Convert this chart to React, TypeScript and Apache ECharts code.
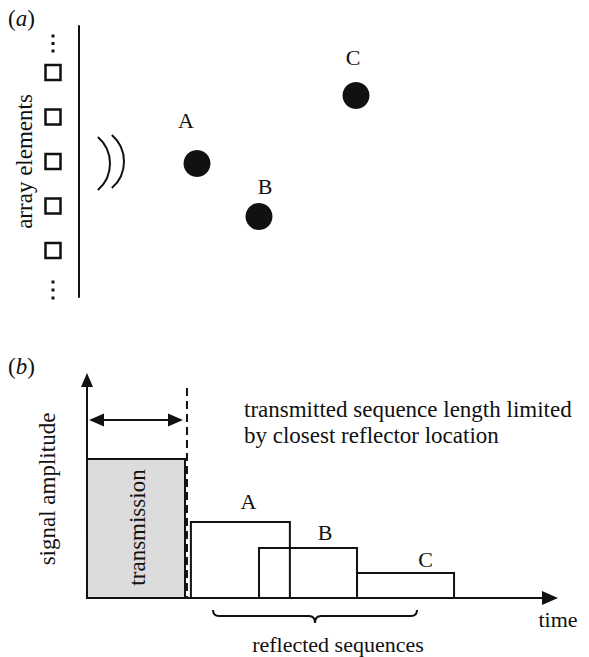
import { useEffect, useRef } from "react";
import * as echarts from "echarts";

// ---------- Panel (a): array geometry (arbitrary mm units) ----------
const elementLateral = [8.9, 4.45, 0, -4.45, -8.9];
const elementDepth = -2.6;
const ellipsisTop = [12.55, 11.8, 11.05];
const ellipsisBottom = [-12.05, -12.85, -13.65];
const reflectorNames = ["A", "B", "C"];
const reflectorDepth = [11.8, 18.0, 27.7];
const reflectorLateral = [-0.2, -5.5, 6.6];

// ---------- Panel (b): signal sequences (time, amplitude) ----------
const sequenceNames = ["transmission", "A", "B", "C"];
const sequenceStart = [0, 1.06, 1.755, 2.755];
const sequenceEnd = [1.0, 2.07, 2.755, 3.745];
const sequenceAmplitude = [1.0, 0.547, 0.36, 0.18];
const lengthLimitTime = 1.02;
const limitLineTop = 1.51;
const limitArrowLevel = 1.28;

// ---------- styling / layout ----------
const FONT = "'Liberation Serif', 'Times New Roman', Times, serif";
const INK = "#111111";
const reflectorLabelOffset = [[-11, -43], [6, -30], [-3, -38]];
const sequenceLabelShift = [[0, 0], [8, -20], [17, -15], [20, -13]];

echarts.graphic.registerShape(
  "brace",
  echarts.graphic.extendPath(
    "M0 0 Q0 6 6 6 L96 6 Q102 6 102 13 Q102 6 108 6 L198 6 Q204 6 204 0",
    {}
  )
);

export default function App() {
  const ref = useRef<HTMLDivElement>(null);

  useEffect(() => {
    if (!ref.current) return;
    const chart = echarts.init(ref.current, null, { renderer: "svg" });

    const hiddenAxisBits = {
      axisTick: { show: false },
      axisLabel: { show: false },
      splitLine: { show: false },
    };

    const panelLabel = (letter: string, y: number) => ({
      type: "text",
      x: 8,
      y,
      style: {
        text: `{n|(}{i|${letter}}{n|)}`,
        verticalAlign: "middle",
        rich: {
          n: { fontFamily: FONT, fontSize: 23, fill: INK, color: INK },
          i: { fontFamily: FONT, fontSize: 23, fontStyle: "italic", fill: INK, color: INK },
        },
      },
    });

    const option: any = {
      animation: false,
      backgroundColor: "#ffffff",
      grid: [
        { left: 39, width: 400, top: 26, height: 271, containLabel: false, outerBoundsMode: "none" },
        { left: 87, right: 39, top: 380, bottom: 59, containLabel: false, outerBoundsMode: "none" },
      ],
      xAxis: [
        {
          gridIndex: 0,
          type: "value",
          min: -4,
          max: 36,
          ...hiddenAxisBits,
          axisLine: { show: false },
        },
        {
          gridIndex: 1,
          type: "value",
          min: 0,
          max: 4.724,
          ...hiddenAxisBits,
          axisLine: {
            show: true,
            onZero: true,
            symbol: ["none", "triangle"],
            symbolSize: [14, 16],
            lineStyle: { color: INK, width: 2 },
          },
        },
      ],
      yAxis: [
        {
          gridIndex: 0,
          type: "value",
          min: -13.55,
          max: 13.55,
          ...hiddenAxisBits,
          axisLine: {
            show: true,
            onZero: true,
            lineStyle: { color: INK, width: 2 },
          },
          name: "array elements",
          nameLocation: "middle",
          nameRotate: 90,
          nameGap: 3,
          nameTextStyle: { fontFamily: FONT, fontSize: 23, color: INK },
        },
        {
          gridIndex: 1,
          type: "value",
          min: 0,
          max: 1.568,
          ...hiddenAxisBits,
          axisLine: {
            show: true,
            onZero: true,
            symbol: ["none", "triangle"],
            symbolSize: [12, 14],
            lineStyle: { color: INK, width: 2 },
          },
          name: "signal amplitude",
          nameLocation: "middle",
          nameRotate: 90,
          nameGap: 28,
          nameTextStyle: { fontFamily: FONT, fontSize: 23, color: INK },
        },
      ],
      series: [
        {
          name: "array elements",
          type: "scatter",
          xAxisIndex: 0,
          yAxisIndex: 0,
          clip: false,
          symbol: "rect",
          symbolSize: 15,
          itemStyle: { color: "#ffffff", borderColor: INK, borderWidth: 2.5, opacity: 1 },
          data: elementLateral.map((v) => [elementDepth, v]),
          z: 3,
        },
        {
          name: "more elements",
          type: "scatter",
          xAxisIndex: 0,
          yAxisIndex: 0,
          clip: false,
          symbol: "rect",
          symbolSize: 3,
          itemStyle: { color: INK, opacity: 1 },
          data: [...ellipsisTop, ...ellipsisBottom].map((v) => [elementDepth, v]),
        },
        {
          name: "reflectors",
          type: "scatter",
          xAxisIndex: 0,
          yAxisIndex: 0,
          clip: false,
          symbol: "circle",
          symbolSize: 27,
          itemStyle: { color: "#111111", opacity: 1 },
          label: {
            show: true,
            position: "inside",
            formatter: (p: any) => p.name,
            fontFamily: FONT,
            fontSize: 22,
            color: INK,
          },
          data: reflectorNames.map((n, i) => ({
            name: n,
            value: [reflectorDepth[i], reflectorLateral[i]],
            label: { offset: reflectorLabelOffset[i] },
          })),
        },
        {
          name: "sequences",
          type: "custom",
          xAxisIndex: 1,
          yAxisIndex: 1,
          clip: false,
          data: sequenceNames.map((n, i) => ({
            name: n,
            value: [sequenceStart[i], sequenceEnd[i], sequenceAmplitude[i]],
          })),
          encode: { x: [0, 1], y: 2 },
          renderItem: (params: any, api: any) => {
            const i = params.dataIndex;
            const s = api.value(0);
            const e = api.value(1);
            const a = api.value(2);
            const p0 = api.coord([s, 0]);
            const p1 = api.coord([e, a]);
            const x = p0[0];
            const y = p1[1];
            const w = p1[0] - p0[0];
            const h = p0[1] - p1[1];
            const isTx = i === 0;
            const children: any[] = [
              {
                type: "rect",
                shape: { x, y, width: w, height: h },
                style: {
                  fill: isTx ? "#dcdcdc" : "none",
                  stroke: INK,
                  lineWidth: 2,
                },
              },
            ];
            if (isTx) {
              children.push({
                type: "text",
                x: x + w / 2 + 1,
                y: y + h / 2 - 1,
                rotation: Math.PI / 2,
                style: {
                  text: sequenceNames[i],
                  fontFamily: FONT,
                  fontSize: 23,
                  fill: INK,
                  align: "center",
                  verticalAlign: "middle",
                },
              });
            } else {
              const sh = sequenceLabelShift[i];
              children.push({
                type: "text",
                x: x + w / 2 + sh[0],
                y: y + sh[1],
                style: {
                  text: sequenceNames[i],
                  fontFamily: FONT,
                  fontSize: 22,
                  fill: INK,
                  align: "center",
                  verticalAlign: "middle",
                },
              });
            }
            return { type: "group", children };
          },
          z: 2,
        },
        {
          name: "length limit",
          type: "custom",
          xAxisIndex: 1,
          yAxisIndex: 1,
          clip: false,
          data: [[lengthLimitTime]],
          encode: { x: 0 },
          renderItem: (_params: any, api: any) => {
            const t = api.value(0);
            const base = api.coord([t, 0]);
            const top = api.coord([t, limitLineTop]);
            const aL = api.coord([0, limitArrowLevel]);
            const aR = api.coord([t, limitArrowLevel]);
            const xL = aL[0] + 2;
            const xR = aR[0] - 4;
            const y = aL[1];
            const head = 15;
            const half = 6.5;
            return {
              type: "group",
              children: [
                {
                  type: "line",
                  shape: { x1: top[0], y1: top[1], x2: base[0], y2: base[1] },
                  style: { stroke: INK, lineWidth: 2, lineDash: [8, 5] },
                },
                {
                  type: "line",
                  shape: { x1: xL + head - 1, y1: y, x2: xR - head + 1, y2: y },
                  style: { stroke: INK, lineWidth: 2 },
                },
                {
                  type: "polygon",
                  shape: { points: [[xL, y], [xL + head, y - half], [xL + head, y + half]] },
                  style: { fill: INK },
                },
                {
                  type: "polygon",
                  shape: { points: [[xR, y], [xR - head, y - half], [xR - head, y + half]] },
                  style: { fill: INK },
                },
              ],
            };
          },
          z: 3,
        },
      ],
      graphic: [
        panelLabel("a", 18),
        panelLabel("b", 366),
        {
          type: "arc",
          shape: { cx: 75, cy: 163.5, r: 35, startAngle: -0.86, endAngle: 0.86 },
          style: { stroke: INK, lineWidth: 2, fill: "none" },
        },
        {
          type: "arc",
          shape: { cx: 89, cy: 161.5, r: 35, startAngle: -0.86, endAngle: 0.86 },
          style: { stroke: INK, lineWidth: 2, fill: "none" },
        },
        {
          type: "text",
          x: 244,
          y: 396,
          style: {
            text: "transmitted sequence length limited\nby closest reflector location",
            fontFamily: FONT,
            fontSize: 23,
            lineHeight: 26,
            fill: INK,
            align: "left",
            verticalAlign: "top",
          },
        },
        {
          type: "brace",
          x: 213,
          y: 610,
          style: { stroke: INK, lineWidth: 2, fill: "none" },
        },
        {
          type: "text",
          x: 338,
          y: 644,
          style: {
            text: "reflected sequences",
            fontFamily: FONT,
            fontSize: 22,
            fill: INK,
            align: "center",
            verticalAlign: "middle",
          },
        },
        {
          type: "text",
          x: 558,
          y: 619,
          style: {
            text: "time",
            fontFamily: FONT,
            fontSize: 22,
            fill: INK,
            align: "center",
            verticalAlign: "middle",
          },
        },
      ],
    };

    chart.setOption(option);
    return () => chart.dispose();
  }, []);

  return (
    <div
      ref={ref}
      style={{
        position: "absolute",
        left: 0,
        top: 0,
        width: 589,
        height: 657,
        background: "#ffffff",
      }}
    />
  );
}
